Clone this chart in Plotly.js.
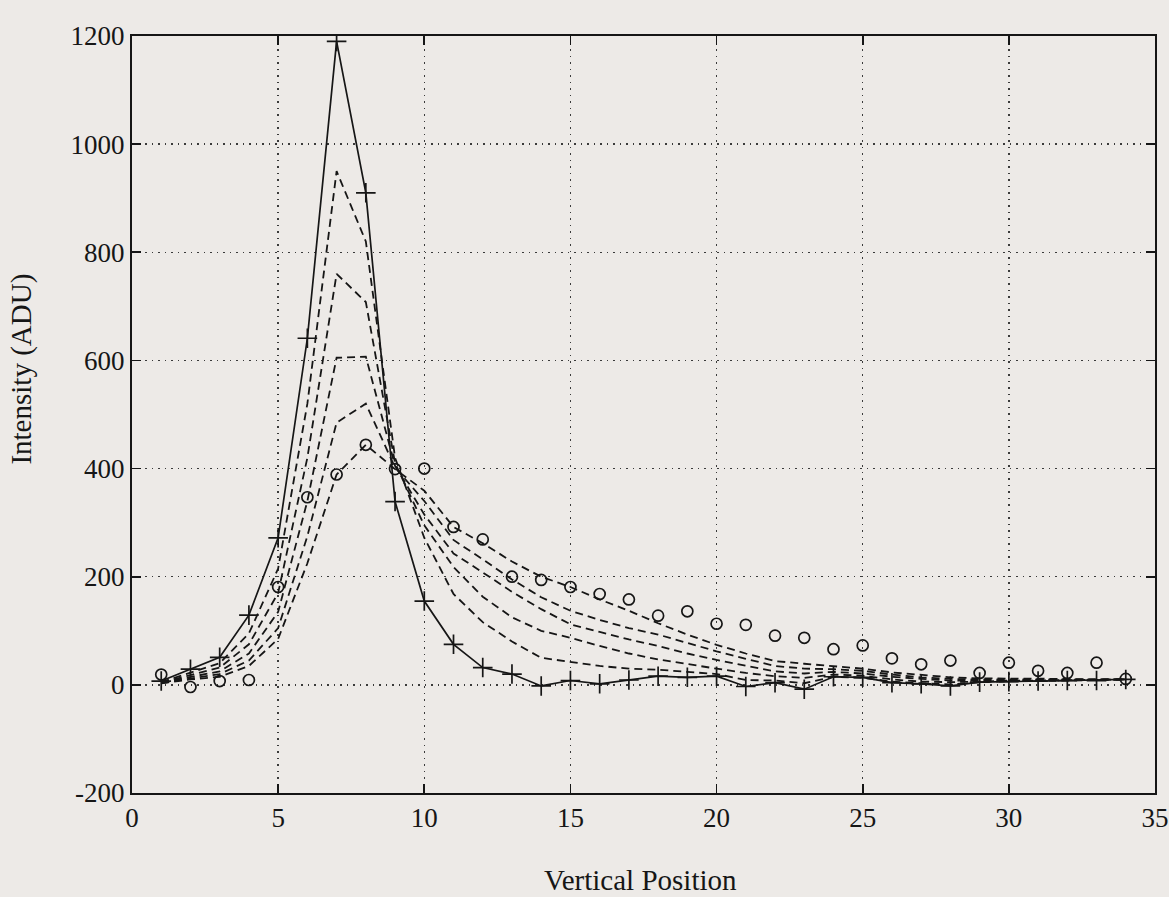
<!DOCTYPE html>
<html>
<head>
<meta charset="utf-8">
<script src="https://cdn.plot.ly/plotly-3.0.1.min.js"></script>
<style>
  html, body { margin: 0; padding: 0; background: #edeae7; }
  #chart { width: 1169px; height: 897px; }
</style>
</head>
<body>
<div id="chart"></div>
<script>
// Vertical positions (pixel rows)
const positions = [1,2,3,4,5,6,7,8,9,10,11,12,13,14,15,16,17,18,19,20,21,22,23,24,25,26,27,28,29,30,31,32,33,34];

// Measured profile (solid line with + markers)
const measured = [7,29,51,129,272,641,1190,910,339,155,75,32,20,-2,8,2,9,16,14,16,-3,4,-8,15,14,4,2,-2,5,6,7,8,8,10];

// Intermediate profiles (dashed lines), least to most spread
const profile1 = [5,22,40,95,215,520,950,820,420,272,168,116,80,50,43,35,30,28,24,20,9,8,3,15,13,6,3,1,5,7,7,8,8,10];
const profile2 = [4,18,32,75,170,420,760,708,410,295,218,163,125,100,87,72,58,47,38,30,22,16,13,19,17,10,6,5,6,8,8,9,9,10];
const profile3 = [4,15,25,58,135,340,605,607,405,315,243,208,172,140,112,98,84,72,58,46,35,25,21,24,21,15,11,8,8,9,9,9,9,10];
const profile4 = [3,12,20,45,105,275,485,520,402,340,268,232,195,162,137,120,105,93,77,62,48,35,30,29,26,19,14,11,10,10,10,10,10,10];
const profile5 = [3,10,15,35,85,225,389,444,399,359,292,262,228,200,181,158,137,114,93,74,58,44,39,34,30,23,18,14,12,12,11,11,10,10];

// Open-circle points
const circles = [19,-4,7,9,181,347,389,444,399,400,292,269,200,194,181,168,158,128,136,113,111,91,87,66,73,49,38,45,22,41,26,22,41,11];

// Axis ticks and titles
const xTicks = [0,5,10,15,20,25,30,35];
const yTicks = [-200,0,200,400,600,800,1000,1200];
const xTitle = 'Vertical Position';
const yTitle = 'Intensity (ADU)';

const ink = '#161616';
const dashed = [profile1, profile2, profile3, profile4, profile5];

const traces = [];
dashed.forEach(function (p) {
  traces.push({
    x: positions, y: p, type: 'scatter', mode: 'lines',
    line: {color: ink, width: 1.8, dash: '8px,5px'},
    hoverinfo: 'skip', showlegend: false
  });
});
traces.push({
  x: positions, y: measured, type: 'scatter', mode: 'lines+markers',
  line: {color: ink, width: 1.7},
  marker: {symbol: 'cross-thin', size: 14, color: ink, line: {color: ink, width: 1.7}},
  showlegend: false
});
traces.push({
  x: positions, y: circles, type: 'scatter', mode: 'markers',
  marker: {symbol: 'circle-open', size: 11, color: ink, line: {color: ink, width: 1.7}},
  showlegend: false
});

const font = {family: '"Liberation Serif", "DejaVu Serif", serif', color: ink};

const layout = {
  width: 1169, height: 897,
  paper_bgcolor: '#edeae7',
  plot_bgcolor: '#edeae7',
  margin: {l: 132, r: 14, t: 36, b: 104},
  showlegend: false,
  font: Object.assign({size: 27}, font),
  xaxis: {
    range: [0, 35],
    tickvals: xTicks,
    ticktext: xTicks.map(String),
    ticks: 'inside', ticklen: 9, tickwidth: 1.6, tickcolor: ink,
    showline: true, linecolor: ink, linewidth: 2, mirror: 'ticks',
    showgrid: true, gridcolor: '#3a3a3a', gridwidth: 1.3, griddash: '1.5px,5px',
    zeroline: false,
    tickfont: Object.assign({size: 27}, font)
  },
  yaxis: {
    range: [-200, 1200],
    tickvals: yTicks,
    ticktext: yTicks.map(String),
    ticks: 'inside', ticklen: 9, tickwidth: 1.6, tickcolor: ink,
    showline: true, linecolor: ink, linewidth: 2, mirror: 'ticks',
    showgrid: true, gridcolor: '#3a3a3a', gridwidth: 1.3, griddash: '1.5px,5px',
    zeroline: false,
    tickfont: Object.assign({size: 27}, font)
  },
  annotations: [
    {text: xTitle, xref: 'paper', yref: 'paper', x: 0.497, y: -0.115,
     xanchor: 'center', yanchor: 'middle', showarrow: false,
     font: Object.assign({size: 29}, font)},
    {text: yTitle, xref: 'paper', yref: 'paper', x: -0.108, y: 0.56,
     xanchor: 'center', yanchor: 'middle', showarrow: false, textangle: -90,
     font: Object.assign({size: 29}, font)}
  ]
};

Plotly.newPlot('chart', traces, layout, {displayModeBar: false, staticPlot: true});
</script>
</body>
</html>
